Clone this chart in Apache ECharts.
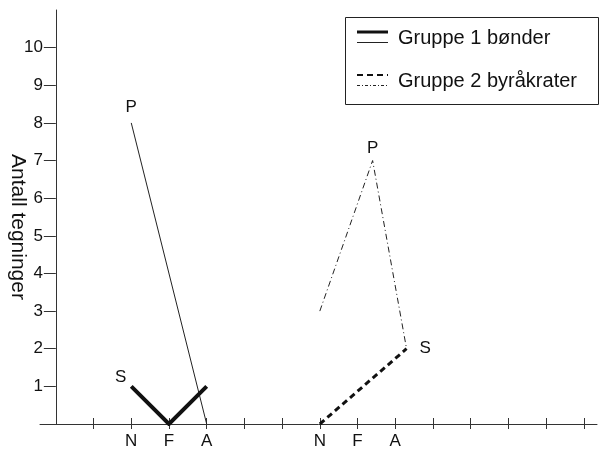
<!DOCTYPE html>
<html><head><meta charset="utf-8">
<script src="https://cdn.jsdelivr.net/npm/echarts@6/dist/echarts.min.js"></script>
<style>html,body{margin:0;padding:0;background:#fff}#c{width:603px;height:450px}</style>
</head><body><div id="c"></div>
<script>
// ---- data ----
const xTickValues = [1,2,3,4,5,6,7,8,9,10,11,12,13,14];
const xLabelValues = [2,3,4,7,8,9];
const xLabelTexts = ['N','F','A','N','F','A'];
const yTickValues = [1,2,3,4,5,6,7,8,9,10];
const yAxisName = 'Antall tegninger';
const legendNames = ['Gruppe 1 bønder','Gruppe 2 byråkrater'];

// Gruppe 1 bønder
const g1S = [[2,1],[3,0],[4,1]];
const g1P = [[2,8],[4,0]];
// Gruppe 2 byråkrater
const g2S = [[7,0],[9.3,2]];
const g2P = [[7,3],[8.4,7],[9.3,2]];
// point letters
const g1SLabel = {idx:0, text:'S'};
const g1PLabel = {idx:0, text:'P'};
const g2SLabel = {idx:1, text:'S'};
const g2PLabel = {idx:1, text:'P'};

const FONT = '"Liberation Sans", Arial, Helvetica, sans-serif';
const INK = '#111';

function withLabel(data, lab, labelOpt){
  return data.map((v,i)=> i===lab.idx ? {value:v, label:Object.assign({show:true, formatter:lab.text, color:INK, fontSize:17, fontFamily:FONT}, labelOpt)} : {value:v});
}

const chart = echarts.init(document.getElementById('c'), null, {renderer:'canvas'});
const xRange = {min:-0.42, max:14.35};
const option = {
  backgroundColor:'#fff',
  animation:false,
  grid:{left:40, right:6, top:10, bottom:26, containLabel:false, outerBoundsMode:'none'},
  xAxis:[
    {type:'value', min:xRange.min, max:xRange.max, position:'bottom',
     axisLine:{onZero:false, lineStyle:{color:'#333', width:1}},
     axisTick:{show:true, inside:false, length:5, customValues:xTickValues, lineStyle:{color:'#333'}},
     axisLabel:{show:true, customValues:xLabelValues, margin:9, color:INK, fontSize:17, fontFamily:FONT,
       formatter:(v)=>{const i=xLabelValues.indexOf(v); return i>=0?xLabelTexts[i]:'';}},
     splitLine:{show:false}},
    {type:'value', min:xRange.min, max:xRange.max, position:'bottom',
     axisLine:{show:false, onZero:false},
     axisTick:{show:true, inside:true, length:6, customValues:xTickValues, lineStyle:{color:'#333'}},
     axisLabel:{show:false}, splitLine:{show:false}}
  ],
  yAxis:{type:'value', min:0, max:11,
    axisLine:{show:true, onZero:true, onZeroAxisIndex:0, lineStyle:{color:'#333', width:1}},
    axisTick:{show:true, inside:false, length:12, customValues:yTickValues, lineStyle:{color:'#333'}},
    axisLabel:{show:true, customValues:yTickValues, margin:-3, color:INK, fontSize:17, fontFamily:FONT},
    splitLine:{show:false},
    name:yAxisName, nameLocation:'middle', nameRotate:-90, nameGap:12, nameMoveOverlap:false,
    nameTextStyle:{color:INK, fontSize:21, fontFamily:FONT, padding:[0,0,0,20]}
  },
  series:[
    {type:'line', name:legendNames[0], data:withLabel(g1S, g1SLabel, {position:'left', distance:5, offset:[0,-9]}),
     symbol:'circle', symbolSize:0, lineStyle:{color:'#111', width:4, join:'miter'}, itemStyle:{color:'#111'}, z:3},
    {type:'line', name:legendNames[0], data:withLabel(g1P, g1PLabel, {position:'top', distance:7}),
     symbol:'circle', symbolSize:0, lineStyle:{color:'#222', width:1}, itemStyle:{color:'#222'}, z:2},
    {type:'line', name:legendNames[1], data:withLabel(g2S, g2SLabel, {position:'right', distance:13}),
     symbol:'circle', symbolSize:0, lineStyle:{color:'#111', width:3, type:[6,4]}, itemStyle:{color:'#111'}, z:3},
    {type:'line', name:legendNames[1], data:withLabel(g2P, g2PLabel, {position:'top', distance:4}),
     symbol:'circle', symbolSize:0, lineStyle:{color:'#222', width:1, type:[6,3,1,3]}, itemStyle:{color:'#222'}, z:2}
  ],
  graphic:[
    {type:'rect', shape:{x:345.5, y:17.5, width:253, height:87}, style:{fill:'#fff', stroke:'#222', lineWidth:1}, z:10},
    {type:'line', shape:{x1:357, y1:32, x2:388, y2:32}, style:{stroke:'#111', lineWidth:3}, z:11},
    {type:'line', shape:{x1:357, y1:42.5, x2:388, y2:42.5}, style:{stroke:'#222', lineWidth:1}, z:11},
    {type:'line', shape:{x1:357, y1:75, x2:388, y2:75}, style:{stroke:'#111', lineWidth:2, lineDash:[6,4]}, z:11},
    {type:'line', shape:{x1:357, y1:85.5, x2:388, y2:85.5}, style:{stroke:'#222', lineWidth:1, lineDash:[3,2,1,2]}, z:11},
    {type:'text', x:398, y:38, style:{text:legendNames[0], fill:INK, fontSize:20, fontFamily:FONT, verticalAlign:'middle', align:'left'}, z:11},
    {type:'text', x:398, y:81, style:{text:legendNames[1], fill:INK, fontSize:20, fontFamily:FONT, verticalAlign:'middle', align:'left'}, z:11}
  ]
};
chart.setOption(option);
</script></body></html>
